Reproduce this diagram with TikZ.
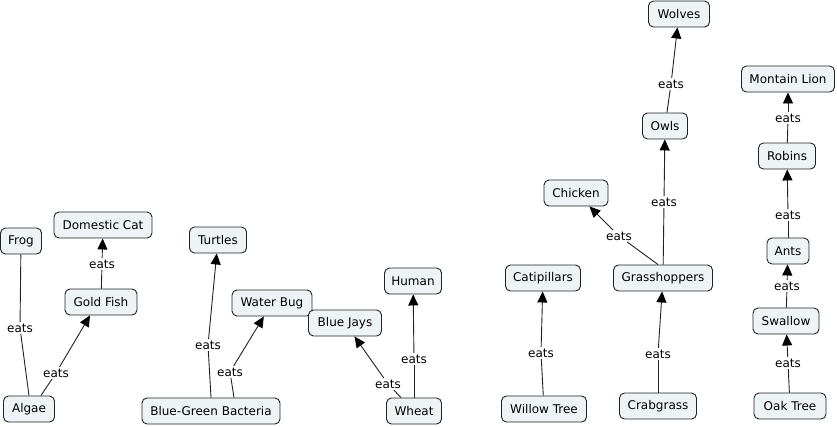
\documentclass[tikz,border=0pt]{standalone}
\usepackage{fontspec}
\setmainfont{DejaVu Sans}
\usetikzlibrary{arrows.meta}
\definecolor{boxfill}{HTML}{EEF3F6}
\definecolor{lin}{HTML}{222222}
\tikzset{
  box/.style={draw=lin, line width=0.9pt, fill=boxfill, rounded corners=5pt, minimum height=26pt, inner xsep=2pt, font=\fontsize{12}{14}\selectfont},
  lbl/.style={inner sep=1.5pt, font=\fontsize{12}{14}\selectfont},
  ln/.style={draw=lin, line width=0.9pt},
  arr/.style={ln, -{Triangle[length=11pt,width=10pt,fill=black,color=black]}}
}
\begin{document}
\begin{tikzpicture}[x=1pt,y=-1pt]
\useasboundingbox (0,0) rectangle (837,426);
% nodes
\node[box, minimum width=41pt] (frog) at (21,241) {Frog};
\node[box, minimum width=98pt] (cat) at (103,225) {Domestic Cat};
\node[box, minimum width=72pt] (gold) at (101,302) {Gold Fish};
\node[box, minimum width=51pt] (algae) at (29,409) {Algae};
\node[box, minimum width=57pt] (turtles) at (218,240) {Turtles};
\node[box, minimum width=80pt] (water) at (272,303) {Water Bug};
\node[box, minimum width=73pt] (jays) at (345,323) {Blue Jays};
\node[box, minimum width=57pt] (human) at (413,281) {Human};
\node[box, minimum width=138pt] (bgb) at (211,411) {Blue-Green Bacteria};
\node[box, minimum width=55pt] (wheat) at (414,411) {Wheat};
\node[box, minimum width=75pt] (cati) at (543,278) {Catipillars};
\node[box, minimum width=85pt] (willow) at (544,409) {Willow Tree};
\node[box, minimum width=64pt] (chicken) at (576,193) {Chicken};
\node[box, minimum width=99pt] (grass) at (663,278) {Grasshoppers};
\node[box, minimum width=77pt] (crab) at (658,406) {Crabgrass};
\node[box, minimum width=45pt] (owls) at (665,126) {Owls};
\node[box, minimum width=61pt] (wolves) at (679,14) {Wolves};
\node[box, minimum width=93pt] (lion) at (788,79) {Montain Lion};
\node[box, minimum width=57pt] (robins) at (787,156) {Robins};
\node[box, minimum width=42pt] (ants) at (788,251) {Ants};
\node[box, minimum width=66pt] (swallow) at (786,321) {Swallow};
\node[box, minimum width=72pt] (oak) at (790,406) {Oak Tree};
% labels
\node[lbl] (e1) at (20,328) {eats};
\node[lbl] (e2) at (56,373) {eats};
\node[lbl] (e3) at (102,264) {eats};
\node[lbl] (e4) at (208,345) {eats};
\node[lbl] (e5) at (230,372) {eats};
\node[lbl] (e6) at (388,384) {eats};
\node[lbl] (e7) at (414,359) {eats};
\node[lbl] (e8) at (541,353) {eats};
\node[lbl] (e9) at (658,354) {eats};
\node[lbl] (e10) at (619,236) {eats};
\node[lbl] (e11) at (664,202) {eats};
\node[lbl] (e12) at (671,84) {eats};
\node[lbl] (e13) at (788,118) {eats};
\node[lbl] (e14) at (788,215) {eats};
\node[lbl] (e15) at (787,286) {eats};
\node[lbl] (e16) at (788,363) {eats};
% connectors
\draw[ln] (algae.north) -- (e1);
\draw[ln] (e1) -- (frog);
\draw[ln] (algae.north east) ++(-14,0) coordinate (a2) (a2) -- (e2);
\draw[arr] (e2) -- (gold.south west -| 90,316);
\draw[ln] (gold) -- (e3);
\draw[arr] (e3) -- (cat);
\draw[ln] (bgb.north) coordinate (b1) (b1) -- (e4);
\draw[arr] (e4) -- (turtles);
\draw[ln] (bgb.north) ++(23,0) coordinate (b2) (b2) -- (e5);
\draw[arr] (e5) -- (water);
\draw[ln] (wheat.north) ++(-13,0) coordinate (w1) (w1) -- (e6);
\draw[arr] (e6) -- (jays);
\draw[ln] (wheat) -- (e7);
\draw[arr] (e7) -- (human);
\draw[ln] (willow) -- (e8);
\draw[arr] (e8) -- (cati);
\draw[ln] (crab) -- (e9);
\draw[arr] (e9) -- (grass);
\draw[ln] (grass.north) ++(-5,0) coordinate (g1) (g1) -- (e10);
\draw[arr] (e10) -- (chicken);
\draw[ln] (grass) -- (e11);
\draw[arr] (e11) -- (owls);
\draw[ln] (owls) -- (e12);
\draw[arr] (e12) -- (wolves);
\draw[ln] (robins) -- (e13);
\draw[arr] (e13) -- (lion);
\draw[ln] (ants) -- (e14);
\draw[arr] (e14) -- (robins);
\draw[ln] (swallow) -- (e15);
\draw[arr] (e15) -- (ants);
\draw[ln] (oak) -- (e16);
\draw[arr] (e16) -- (swallow);
\end{tikzpicture}
\end{document}
